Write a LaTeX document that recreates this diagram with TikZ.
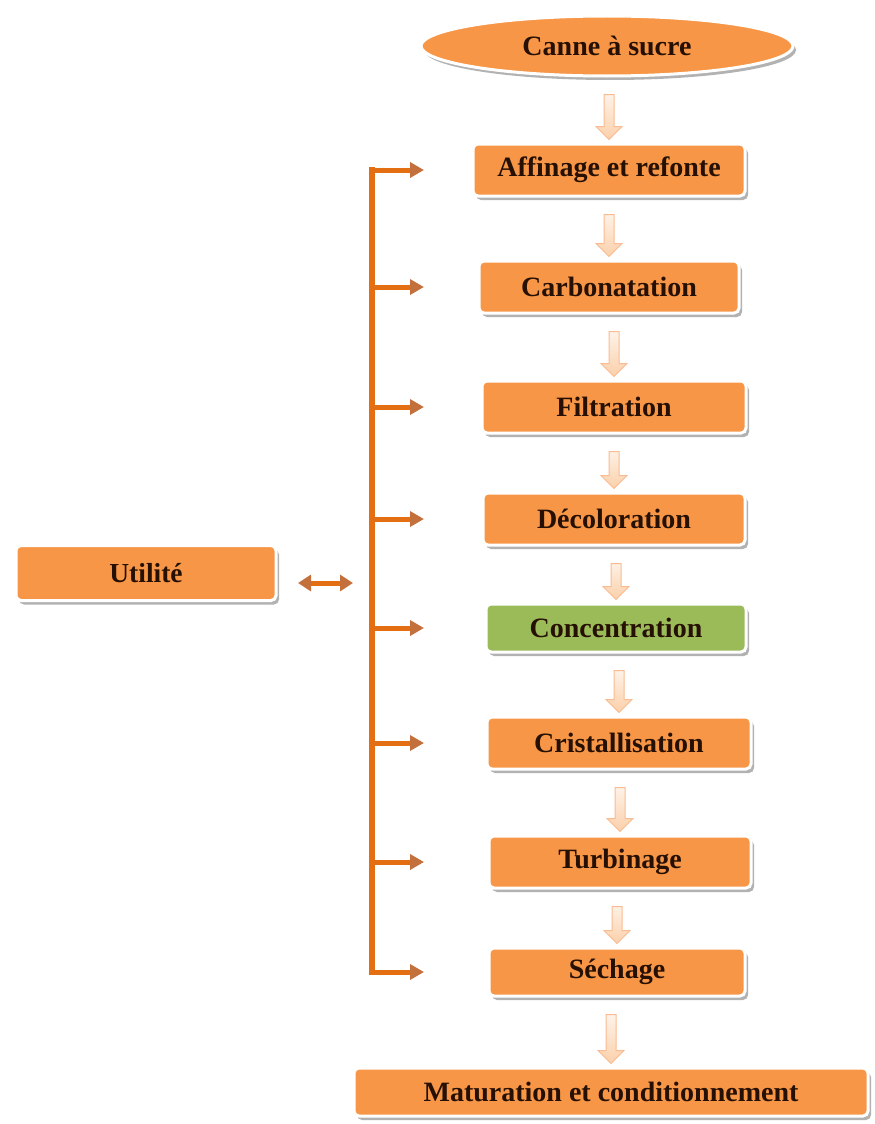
\documentclass[tikz,border=0pt]{standalone}
\usepackage{fontspec}
\setmainfont{Liberation Serif}
\usetikzlibrary{shapes.geometric,shadows,calc,arrows.meta}

\definecolor{stepfill}{RGB}{247,150,70}
\definecolor{stepgreen}{RGB}{155,187,89}
\definecolor{inktext}{RGB}{38,16,4}
\definecolor{busorange}{RGB}{228,110,18}
\definecolor{headcol}{RGB}{196,112,60}
\definecolor{arrowedge}{RGB}{249,188,146}
\definecolor{arrowfill}{RGB}{251,208,170}

\begin{document}
\begin{tikzpicture}[x=1pt,y=-1pt,
  stepbox/.style={rectangle, rounded corners=5pt, fill=stepfill, draw=white,
    line width=3pt, drop shadow={shadow xshift=3pt, shadow yshift=-4pt,
    fill=black!55, opacity=.55}, font=\fontsize{28}{30}\selectfont\bfseries,
    text=inktext, inner sep=0pt, minimum height=52pt},
  startbox/.style={stepbox, ellipse, rounded corners=0pt},
  flowarrow/.style={draw=arrowedge, line width=1pt, top color=white,
    bottom color=arrowfill, line join=miter,
    to path={($(\tikztotarget |- \tikztostart)+(-5,17)$)
      -- ($(\tikztotarget)+(-5,-16)$) -- ($(\tikztotarget)+(-13,-16)$)
      -- ($(\tikztotarget)+(0,-3)$) -- ($(\tikztotarget)+(13,-16)$)
      -- ($(\tikztotarget)+(5,-16)$)
      -- ($(\tikztotarget |- \tikztostart)+(5,17)$) -- cycle}},
  busline/.style={draw=busorange, line width=6pt, line cap=rect},
  sidearrow/.style={draw=busorange, line width=5pt,
    -{Triangle[length=14pt, width=15pt, color=headcol]}},
  bothways/.style={draw=busorange, line width=5pt,
    {Triangle[length=13pt, width=16pt, color=headcol]}-{Triangle[length=13pt, width=16pt, color=headcol]}}
]
\useasboundingbox (0,0) rectangle (875,1124);

% process steps
\node[startbox, minimum width=372pt, minimum height=60pt] (canne) at (607,46) {Canne à sucre};
\node[stepbox, minimum width=272pt] (affinage) at (609,170) {Affinage et refonte};
\node[stepbox, minimum width=260pt] (carbon) at (609,287) {Carbonatation};
\node[stepbox, minimum width=264pt] (filtr) at (614,407) {Filtration};
\node[stepbox, minimum width=262pt] (decol) at (614,519) {Décoloration};
\node[stepbox, fill=stepgreen, minimum width=260pt, minimum height=48pt] (conc) at (616,628) {Concentration};
\node[stepbox, minimum width=264pt] (crist) at (619,743) {Cristallisation};
\node[stepbox, minimum width=262pt] (turb) at (620,862) {Turbinage};
\node[stepbox, minimum width=256pt, minimum height=48pt] (sech) at (617,972) {Séchage};
\node[stepbox, minimum width=514pt, minimum height=48pt] (matur) at (611,1092) {Maturation et conditionnement};

% utilities
\node[stepbox, minimum width=260pt, minimum height=55pt, font=\fontsize{27.5}{30}\selectfont\bfseries] (util) at (146,573) {Utilité};

% main flow
\path[flowarrow] (canne.south) to (affinage.north);
\path[flowarrow] (affinage.south) to (carbon.north);
\path[flowarrow] (carbon.south) to (filtr.north);
\path[flowarrow] (filtr.south) to (decol.north);
\path[flowarrow] (decol.south) to (conc.north);
\path[flowarrow] (conc.south) to (crist.north);
\path[flowarrow] (crist.south) to (turb.north);
\path[flowarrow] (turb.south) to (sech.north);
\path[flowarrow] (sech.south) to (matur.north);

% utility distribution bus
\coordinate (bus) at (372,0);
\coordinate (tip) at (424,0);
\coordinate (ul) at (298,583);
\coordinate (ur) at (353,583);

\draw[busline] (bus |- affinage.west) -- (bus |- sech.west);
\foreach \n in {affinage,carbon,filtr,decol,conc,crist,turb,sech}
  \draw[sidearrow] (bus |- \n.west) -- (tip |- \n.west);
\draw[bothways] (ul) -- (ur);
\end{tikzpicture}
\end{document}
